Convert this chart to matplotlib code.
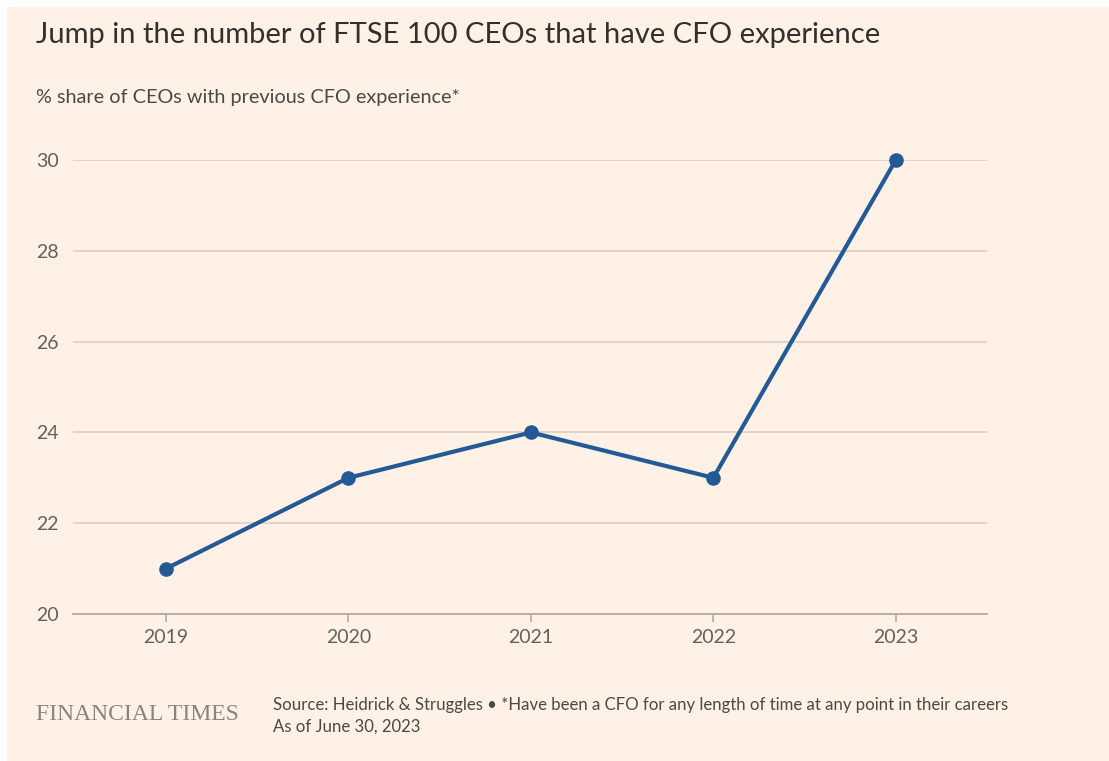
import matplotlib
matplotlib.use("Agg")
import matplotlib.pyplot as plt
from matplotlib.patches import Rectangle

years = [2019, 2020, 2021, 2022, 2023]
share = [21, 23, 24, 23, 30]
y_ticks = [20, 22, 24, 26, 28, 30]

BG = "#fff1e5"
W, H = 1109, 761
fig = plt.figure(figsize=(W / 100, H / 100), dpi=100)
fig.patch.set_facecolor("white")
fig.patches.append(Rectangle((7 / W, 0), 1, 1 - 7 / H, transform=fig.transFigure,
                             facecolor=BG, edgecolor="none", zorder=-10))

def fx(px):
    return px / W

def fy(py):
    return 1 - py / H

ax = fig.add_axes([fx(73), fy(614), fx(987) - fx(73), fy(160) - fy(614)])
ax.set_facecolor("none")
ax.set_xlim(2018.49, 2023.5)
ax.set_ylim(20, 30)

ax.plot(years, share, color="#235a96", lw=3.0, marker="o", ms=9.5,
        solid_capstyle="round", zorder=5, clip_on=False)

ax.set_yticks(y_ticks)
ax.set_xticks(years)
ax.set_xticklabels([str(y) for y in years])
for s in ["top", "right", "left"]:
    ax.spines[s].set_visible(False)
ax.spines["bottom"].set_color("#b5aaa2")
ax.spines["bottom"].set_linewidth(1.3)
ax.grid(axis="y", color="#d8ccc3", lw=1.1)
ax.set_axisbelow(True)
ax.tick_params(axis="y", length=0, pad=26.6, labelsize=14, labelcolor="#66605c")
for lab in ax.get_yticklabels():
    lab.set_horizontalalignment("left")
ax.tick_params(axis="x", length=6, width=1.2, color="#b5aaa2", pad=5,
               labelsize=14, labelcolor="#66605c")
for lab in ax.get_xticklabels() + ax.get_yticklabels():
    lab.set_fontfamily(["Lato", "DejaVu Sans"])

fig.text(fx(36), fy(35), "Jump in the number of FTSE 100 CEOs that have CFO experience",
         fontsize=21, color="#33302e", va="center", ha="left",
         family=["Lato", "DejaVu Sans"])
fig.text(fx(36), fy(98), "% share of CEOs with previous CFO experience*",
         fontsize=14.3, color="#4d4845", va="center", ha="left",
         family=["Lato", "DejaVu Sans"])

fig.text(fx(36), fy(714), "FINANCIAL TIMES", fontsize=17, color="#8a8480",
         va="center", ha="left", family=["Liberation Serif", "DejaVu Serif"])
fig.text(fx(273), fy(705),
         "Source: Heidrick & Struggles \u2022 *Have been a CFO for any length of time at any point in their careers",
         fontsize=12.1, color="#4d4845", va="center", ha="left",
         family=["Lato", "DejaVu Sans"])
fig.text(fx(273), fy(727), "As of June 30, 2023", fontsize=12.1, color="#4d4845",
         va="center", ha="left", family=["Lato", "DejaVu Sans"])

fig.savefig("out.png", dpi=100, facecolor=fig.get_facecolor())
